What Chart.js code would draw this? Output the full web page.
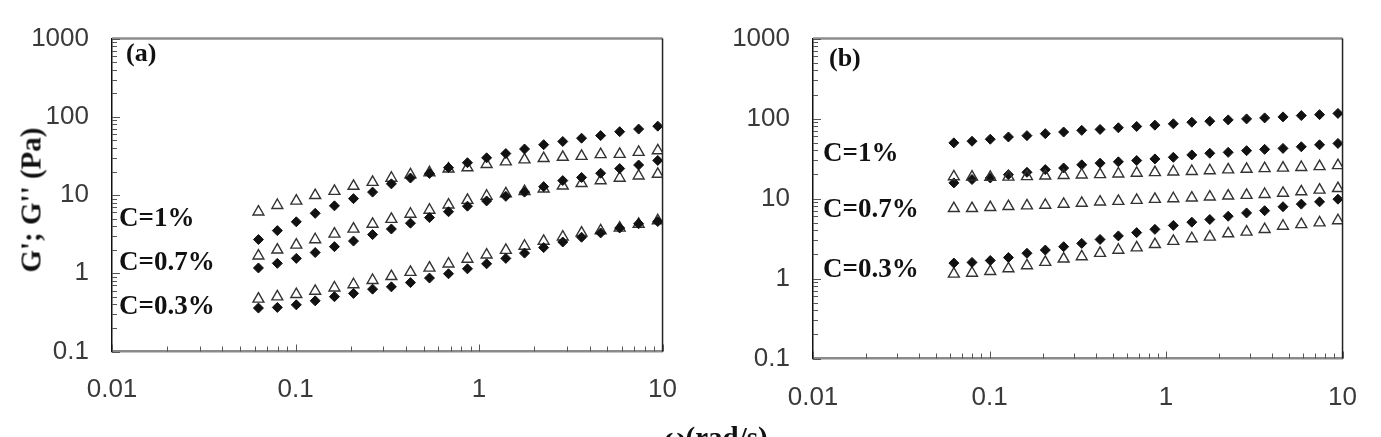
<!DOCTYPE html>
<html>
<head>
<meta charset="utf-8">
<script src="https://cdn.jsdelivr.net/npm/chart.js@4.4.1/dist/chart.umd.min.js"></script>
<style>
  html, body { margin: 0; padding: 0; background: #fff; overflow: hidden; }
  #page { position: relative; width: 1381px; height: 437px; }
  canvas { position: absolute; top: 0; }
  .lbl {
    position: absolute;
    font-family: 'Liberation Serif', 'Times New Roman', serif;
    font-weight: bold;
    color: #111;
    white-space: nowrap;
    line-height: 1;
    transform: translateY(-50%);
  }
</style>
</head>
<body>
<div id="page">
  <canvas id="chartA" width="700" height="437" style="left:0px"></canvas>
  <canvas id="chartB" width="681" height="437" style="left:700px"></canvas>

  <div class="lbl" style="left:31px;top:200px;font-size:29px;transform:translate(-50%,-50%) rotate(-90deg)">G'; G'' (Pa)</div>
  <div class="lbl" style="left:716px;top:437px;font-size:29px;transform:translate(-50%,-50%)">ω(rad/s)</div>

  <div class="lbl" style="left:126px;top:53px;font-size:26px">(a)</div>
  <div class="lbl" style="left:119px;top:217px;font-size:27px">C=1%</div>
  <div class="lbl" style="left:119px;top:261px;font-size:27px">C=0.7%</div>
  <div class="lbl" style="left:119px;top:305px;font-size:27px">C=0.3%</div>

  <div class="lbl" style="left:829px;top:58px;font-size:26px">(b)</div>
  <div class="lbl" style="left:823px;top:152px;font-size:27px">C=1%</div>
  <div class="lbl" style="left:823px;top:208px;font-size:27px">C=0.7%</div>
  <div class="lbl" style="left:823px;top:268px;font-size:27px">C=0.3%</div>
</div>

<script>
// angular frequency (rad/s), same sweep for both panels
const omega = [0.0628, 0.0796, 0.101, 0.128, 0.163, 0.207, 0.263, 0.333, 0.423, 0.537, 0.682,
               0.865, 1.10, 1.40, 1.77, 2.25, 2.86, 3.62, 4.60, 5.84, 7.41, 9.42];

// panel (a)
const a1G1  = [2.70, 3.51, 4.55, 5.84, 7.28, 9.0, 10.9, 13.9, 16.5, 18.9, 22.4, 25.9, 29.9, 33.9, 38.8, 44.0, 48.4, 53.3, 57.5, 64.6, 69.7, 76.0];
const a1G2  = [6.1, 7.4, 8.4, 9.9, 11.2, 13.0, 14.6, 16.5, 18.2, 19.4, 21.6, 22.4, 24.7, 26.7, 28.3, 29.4, 30.5, 31.4, 33.0, 33.3, 35.3, 37.0];
const a07G1 = [1.17, 1.34, 1.55, 1.84, 2.19, 2.58, 3.12, 3.68, 4.37, 5.15, 6.12, 7.21, 8.41, 9.62, 10.9, 12.8, 15.3, 16.8, 19.0, 21.8, 24.2, 27.7];
const a07G2 = [1.67, 1.99, 2.30, 2.70, 3.18, 3.68, 4.25, 4.91, 5.72, 6.43, 7.49, 8.58, 9.71, 10.4, 11.1, 12.0, 13.1, 14.1, 15.3, 16.5, 17.6, 18.5];
const a03G1 = [0.359, 0.366, 0.395, 0.444, 0.502, 0.553, 0.627, 0.671, 0.760, 0.869, 0.986, 1.14, 1.32, 1.55, 1.81, 2.13, 2.51, 2.89, 3.28, 3.79, 4.30, 4.59];
const a03G2 = [0.470, 0.502, 0.538, 0.592, 0.652, 0.718, 0.813, 0.912, 1.03, 1.17, 1.32, 1.52, 1.72, 1.97, 2.23, 2.58, 2.92, 3.28, 3.51, 3.79, 4.25, 4.72];

// panel (b)
const b1G1  = [49.7, 52.1, 55.2, 58.9, 61.2, 64.8, 67.9, 71.2, 73.2, 76.8, 79.7, 82.8, 86.0, 90.1, 92.7, 96.3, 99.1, 102, 105, 109, 112, 116];
const b1G2  = [18.8, 18.6, 18.5, 18.6, 18.9, 19.2, 19.5, 19.8, 20.0, 20.4, 20.8, 21.2, 21.6, 21.9, 22.4, 22.9, 23.3, 23.8, 24.1, 24.6, 25.2, 25.9];
const b07G1 = [15.7, 17.3, 18.1, 19.9, 21.3, 23.0, 24.1, 26.4, 27.7, 28.8, 29.9, 31.3, 32.8, 35.1, 36.8, 37.8, 39.7, 41.2, 42.4, 44.4, 47.0, 48.9];
const b07G2 = [7.53, 7.53, 7.75, 7.98, 8.13, 8.28, 8.52, 8.77, 9.10, 9.27, 9.54, 9.82, 10.0, 10.2, 10.5, 10.8, 11.0, 11.3, 11.7, 12.2, 12.8, 13.4];
const b03G1 = [1.56, 1.59, 1.68, 1.83, 2.07, 2.27, 2.50, 2.75, 3.08, 3.41, 3.75, 4.12, 4.61, 5.07, 5.47, 6.01, 6.61, 7.05, 7.90, 8.52, 9.10, 9.82];
const b03G2 = [1.14, 1.17, 1.23, 1.33, 1.45, 1.60, 1.76, 1.88, 2.07, 2.27, 2.43, 2.67, 2.93, 3.16, 3.31, 3.64, 3.82, 4.12, 4.53, 4.74, 4.98, 5.31];

// axes
const xDecades = [0.01, 0.1, 1, 10];
const xTickLabels = ['0.01', '0.1', '1', '10'];
const yDecades = [0.1, 1, 10, 100, 1000];
const yTickLabels = ['0.1', '1', '10', '100', '1000'];
const minorSteps = [1, 2, 3, 4, 5, 6, 7, 8, 9];

function logTicks(decades) {
    const out = [];
    for (let i = 0; i < decades.length - 1; i++) {
        minorSteps.forEach(m => out.push(decades[i] * m));
    }
    out.push(decades[decades.length - 1]);
    return out;
}

function decadeIndex(decades, v) {
    return decades.findIndex(d => Math.abs(d - v) < d * 1e-6);
}

// tick marks point inwards, plus top/right frame
const innerTicks = {
    id: 'innerTicks',
    afterDraw(chart) {
        const { ctx, chartArea: a, scales } = chart;
        ctx.save();
        ctx.strokeStyle = '#8c8c8c';
        ctx.lineWidth = 2.5;
        ctx.beginPath();
        ctx.moveTo(a.left, a.top);
        ctx.lineTo(a.right, a.top);
        ctx.stroke();
        ctx.strokeStyle = '#222';
        ctx.lineWidth = 1.5;
        ctx.beginPath();
        ctx.moveTo(a.right, a.top);
        ctx.lineTo(a.right, a.bottom);
        ctx.stroke();

        ctx.strokeStyle = '#555';
        ctx.lineWidth = 1;
        ctx.beginPath();
        scales.x.ticks.forEach(t => {
            const px = Math.round(scales.x.getPixelForValue(t.value)) + 0.5;
            const len = decadeIndex(xDecades, t.value) >= 0 ? 7 : 5;
            ctx.moveTo(px, a.bottom);
            ctx.lineTo(px, a.bottom - len);
        });
        scales.y.ticks.forEach(t => {
            const py = Math.round(scales.y.getPixelForValue(t.value)) + 0.5;
            const len = decadeIndex(yDecades, t.value) >= 0 ? 8 : 5;
            ctx.moveTo(a.left, py);
            ctx.lineTo(a.left + len, py);
        });
        ctx.stroke();
        ctx.restore();
    }
};

function points(ys) {
    return omega.map((x, i) => ({ x: x, y: ys[i] }));
}

function storage(ys, label) {
    return {
        label: label,
        data: points(ys),
        pointStyle: 'rectRot',
        pointRadius: 5,
        backgroundColor: '#111',
        borderColor: '#111',
        borderWidth: 1
    };
}

function loss(ys, label) {
    return {
        label: label,
        data: points(ys),
        pointStyle: 'triangle',
        pointRadius: 6.3,
        backgroundColor: 'rgba(255,255,255,0)',
        borderColor: '#333',
        borderWidth: 1.4
    };
}

function makePanel(id, datasets, pad, tickPadX) {
    const tickFont = { family: "'Liberation Sans', Arial, sans-serif", size: 26 };
    return new Chart(document.getElementById(id), {
        type: 'scatter',
        data: { datasets: datasets },
        plugins: [innerTicks],
        options: {
            responsive: false,
            animation: false,
            events: [],
            devicePixelRatio: 1,
            layout: { padding: pad },
            plugins: { legend: { display: false }, tooltip: { enabled: false } },
            scales: {
                x: {
                    type: 'logarithmic',
                    min: 0.01,
                    max: 10,
                    afterBuildTicks: s => { s.ticks = logTicks(xDecades).map(v => ({ value: v })); },
                    afterFit: s => { s.height = 60; },
                    grid: { display: false, drawTicks: false },
                    border: { display: true, color: '#8a8a8a', width: 2.5 },
                    ticks: {
                        autoSkip: false,
                        maxRotation: 0,
                        padding: tickPadX,
                        color: '#3a3a3a',
                        font: tickFont,
                        callback: v => {
                            const i = decadeIndex(xDecades, v);
                            return i >= 0 ? xTickLabels[i] : '';
                        }
                    }
                },
                y: {
                    type: 'logarithmic',
                    min: 0.1,
                    max: 1000,
                    afterBuildTicks: s => { s.ticks = logTicks(yDecades).map(v => ({ value: v })); },
                    afterFit: s => { s.width = 100; },
                    grid: { display: false, drawTicks: false },
                    border: { display: true, color: '#111', width: 1.5 },
                    ticks: {
                        autoSkip: false,
                        padding: 23,
                        color: '#3a3a3a',
                        font: tickFont,
                        callback: v => {
                            const i = decadeIndex(yDecades, v);
                            return i >= 0 ? yTickLabels[i] : '';
                        }
                    }
                }
            }
        }
    });
}

makePanel('chartA', [
    storage(a1G1, "G' C=1%"), loss(a1G2, "G'' C=1%"),
    storage(a07G1, "G' C=0.7%"), loss(a07G2, "G'' C=0.7%"),
    storage(a03G1, "G' C=0.3%"), loss(a03G2, "G'' C=0.3%")
], { left: 12, right: 34, top: 30, bottom: 25.5 }, 23);

makePanel('chartB', [
    storage(b1G1, "G' C=1%"), loss(b1G2, "G'' C=1%"),
    storage(b07G1, "G' C=0.7%"), loss(b07G2, "G'' C=0.7%"),
    storage(b03G1, "G' C=0.3%"), loss(b03G2, "G'' C=0.3%")
], { left: 13, right: 31, top: 33, bottom: 18.5 }, 24);
</script>
</body>
</html>
